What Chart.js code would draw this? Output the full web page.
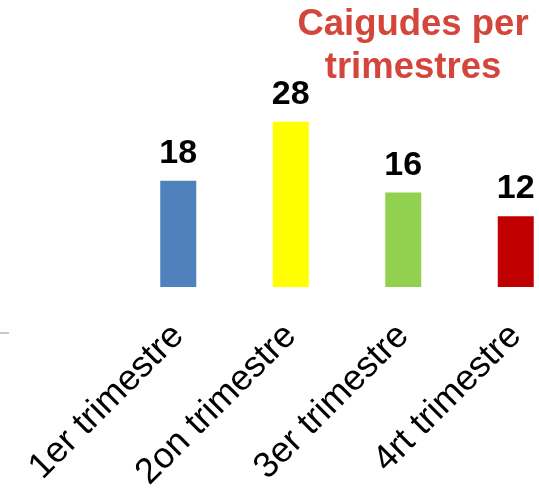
<!DOCTYPE html>
<html>
<head>
<meta charset="utf-8">
<script src="https://cdn.jsdelivr.net/npm/chart.js@4"></script>
<style>
  body { margin: 0; overflow: hidden; background: #fff; }
  #wrap { width: 580px; height: 488px; }
</style>
</head>
<body>
<div id="wrap"><canvas id="chart"></canvas></div>
<script>
const categories = ["1er trimestre", "2on trimestre", "3er trimestre", "4rt trimestre"];
const values = [18, 28, 16, 12];
const barColors = ["#4F81BD", "#FFFF00", "#92D050", "#C00000"];
const titleLines = ["Caigudes per", "trimestres"];

// value above each bar + title block
const labelsPlugin = {
  id: "labels",
  afterDatasetsDraw(chart) {
    const ctx = chart.ctx;
    const meta = chart.getDatasetMeta(0);
    ctx.save();
    ctx.fillStyle = "#000";
    ctx.font = "bold 34px 'Liberation Sans', Arial, sans-serif";
    ctx.textAlign = "center";
    ctx.textBaseline = "alphabetic";
    meta.data.forEach((bar, i) => {
      ctx.fillText(values[i], bar.x, bar.y - 18);
    });
    ctx.restore();
  },
  afterDraw(chart) {
    const ctx = chart.ctx;
    ctx.save();
    ctx.fillStyle = "#D4463B";
    ctx.font = "bold 36.5px 'Liberation Sans', Arial, sans-serif";
    ctx.textAlign = "center";
    ctx.fillText(titleLines[0], 413, 35);
    ctx.fillText(titleLines[1], 413, 78);
    // small axis stub on the left
    ctx.strokeStyle = "#C8C8C8";
    ctx.lineWidth = 2;
    ctx.beginPath();
    ctx.moveTo(0, 333);
    ctx.lineTo(9, 333);
    ctx.stroke();
    ctx.restore();
  }
};

new Chart(document.getElementById("chart"), {
  type: "bar",
  data: {
    labels: categories,
    datasets: [
      {
        data: values,
        backgroundColor: barColors,
        borderWidth: 0,
        categoryPercentage: 1,
        barPercentage: 0.32,
      },
    ],
  },
  options: {
    responsive: true,
    maintainAspectRatio: false,
    animation: false,
    layout: { padding: { left: 122, right: 8, top: 51, bottom: 0 } },
    plugins: {
      legend: { display: false },
      title: { display: false },
      tooltip: { enabled: false },
    },
    scales: {
      x: {
        grid: { display: false },
        border: { display: false },
        afterFit(scale) { scale.height = 201; },
        ticks: {
          color: "#000",
          font: { family: "'Liberation Sans', Arial, sans-serif", size: 36 },
          minRotation: 45,
          maxRotation: 45,
          padding: 20,
        },
      },
      y: { display: false, min: 0, max: 40 },
    },
  },
  plugins: [labelsPlugin],
});
</script>
</body>
</html>
